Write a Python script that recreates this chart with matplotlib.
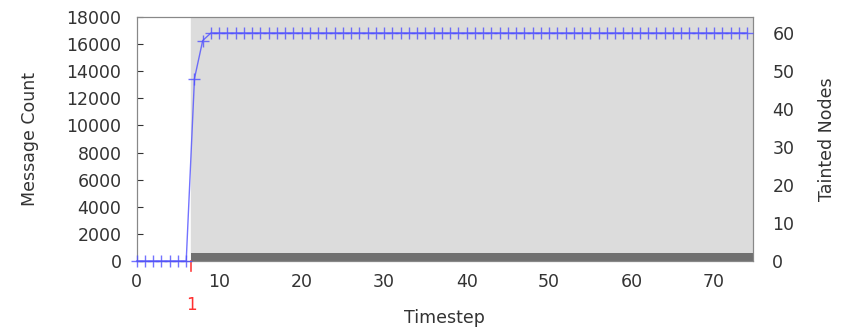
import numpy as np
import matplotlib
matplotlib.use("Agg")
import matplotlib.pyplot as plt

# tainted nodes per timestep (right axis)
timesteps = list(range(0, 75))
tainted = [0, 0, 0, 0, 0, 0, 0, 48, 58] + [60] * 66

# shaded event region / message band
event_start = 6.6
event_label = "1"
msg_band = 550  # height of dark band in message-count units

fig = plt.figure(figsize=(8.44, 3.27), dpi=100)
ax = fig.add_axes([0.162, 0.202, 0.73, 0.746])
ax2 = ax.twinx()

xmax = 74.7
ax.axvspan(event_start, xmax, color="#dcdcdc", zorder=0)
ax.bar(event_start, msg_band, width=xmax - event_start, align="edge",
       color="#707070", zorder=1)
ax.set_xlim(0, xmax)
ax.set_ylim(0, 18000)
ax.set_yticks(np.arange(0, 18001, 2000))
ax.set_xticks(np.arange(0, 71, 10))

ax2.plot(timesteps, tainted, color="#5050ff", lw=1.0, marker="+", ms=8,
         mew=1.0, alpha=0.8, clip_on=False, zorder=5)
ax2.set_ylim(0, 64.2)
ax2.set_yticks(np.arange(0, 61, 10))

# red event marker below axis
ax.plot([event_start, event_start], [0, -0.04], color="#ff4040", lw=1.2,
        transform=ax.get_xaxis_transform(), clip_on=False)
ax.text(event_start, -0.18, event_label, color="#ff3030", fontsize=12,
        ha="center", va="center", transform=ax.get_xaxis_transform())

txt = "#333333"
fs = 12.5
for a in (ax, ax2):
    for s in a.spines.values():
        s.set_color("#888888")
        s.set_linewidth(0.8)
    a.tick_params(colors=txt, labelsize=fs, direction="in", length=4)
ax.tick_params(axis="x", length=0, pad=9)
ax2.tick_params(axis="y", length=0, pad=14)
ax.tick_params(axis="y", pad=11)

ax.set_xlabel("Timestep", color=txt, fontsize=fs)
ax.set_ylabel("Message Count", color=txt, fontsize=fs)
ax2.set_ylabel("Tainted Nodes", color=txt, fontsize=fs)
ax.xaxis.set_label_coords(0.5, -0.195)
ax.yaxis.set_label_coords(-0.158, 0.5)
ax2.yaxis.set_label_coords(1.105, 0.5)

fig.savefig("out.png", dpi=100)
